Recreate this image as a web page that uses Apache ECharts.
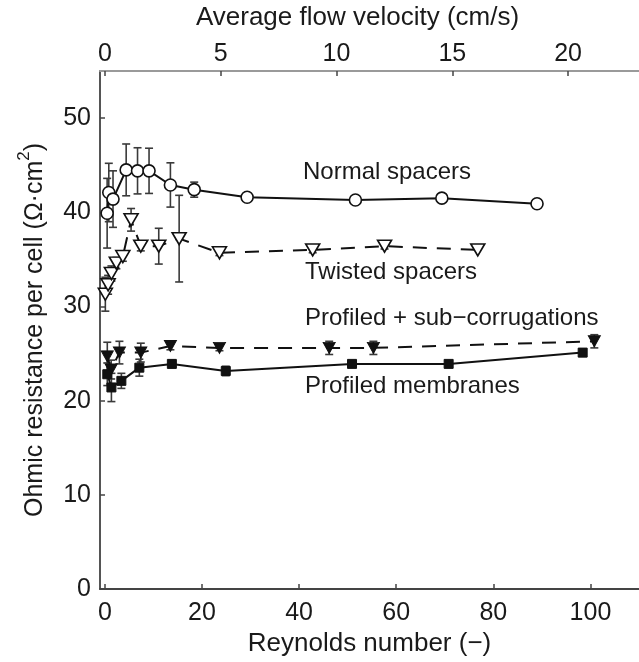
<!DOCTYPE html>
<html><head><meta charset="utf-8">
<script src="https://cdn.jsdelivr.net/npm/echarts@6/dist/echarts.min.js"></script>
<style>html,body{margin:0;padding:0;background:#fff}#c{width:639px;height:662px}</style>
</head><body><div id="c"></div><script>
// ---- data ----
const reNormal  = [0.47, 0.81, 1.68, 4.39, 6.73, 9.10, 13.5, 18.4, 29.3, 51.6, 69.4, 89.0];
const ohmNormal = [39.9, 42.1, 41.4, 44.5, 44.4, 44.4, 42.9, 42.4, 41.6, 41.3, 41.5, 40.9];
const errNormal = [3.7, 3.1, 3.0, 2.75, 2.45, 2.4, 2.35, 0.8, 0, 0, 0, 0];

const reTwisted  = [0.1, 0.67, 1.35, 2.37, 3.7, 5.4, 7.4, 11.1, 15.3, 23.6, 42.8, 57.6, 76.8];
const ohmTwisted = [31.3, 32.3, 33.5, 34.6, 35.3, 39.2, 36.4, 36.4, 37.2, 35.7, 36.0, 36.4, 36.0];
const errTwisted = [1.8, 1.0, 0.8, 0.6, 0.5, 1.2, 0.5, 1.9, 4.6, 0.3, 0.3, 0.3, 0];

const reSub  = [0.5, 1.3, 3.0, 7.4, 13.5, 23.6, 46.2, 55.3, 100.8];
const ohmSub = [24.7, 23.3, 25.1, 25.1, 25.8, 25.6, 25.6, 25.6, 26.3];
const errSub = [1.5, 1.0, 1.2, 1.0, 0.4, 0.3, 0.7, 0.7, 0.7];

const reProf  = [0.5, 1.35, 3.4, 7.1, 13.8, 24.9, 50.9, 70.8, 98.4];
const ohmProf = [22.8, 21.4, 22.1, 23.5, 23.9, 23.15, 23.9, 23.9, 25.1];
const errProf = [1.2, 1.5, 0.8, 0.9, 0.4, 0.5, 0.3, 0.3, 0.4];

const reTicks  = [0, 20, 40, 60, 80, 100];
const velTicks = [0, 5, 10, 15, 20];
const ohmTicks = [0, 10, 20, 30, 40, 50];
const RE_PER_VELOCITY = 4.77;   // Reynolds number per cm/s (axis relation)
const RE_MIN = -1, RE_MAX = 110, OHM_MIN = 0, OHM_MAX = 55;

const labels = ['Normal spacers', 'Twisted spacers', 'Profiled + sub\u2212corrugations', 'Profiled membranes'];

// ---- chart ----
const FONT = '"Liberation Sans", Arial, Helvetica, sans-serif';
const INK = '#1a1a1a';
const chart = echarts.init(document.getElementById('c'), null, {renderer: 'canvas'});

function pairs(xs, ys) { return xs.map((x, i) => [x, ys[i]]); }
function errData(xs, ys, es) {
  return xs.map((x, i) => [x, ys[i] - es[i], ys[i] + es[i], es[i]]).filter(d => d[3] > 0);
}
function errSeries(xs, ys, es) {
  return {
    type: 'custom', xAxisIndex: 0, yAxisIndex: 0, z: 1, silent: true, clip: false,
    data: errData(xs, ys, es),
    encode: {x: 0, y: [1, 2]},
    renderItem: function (params, api) {
      const x = api.value(0);
      const p1 = api.coord([x, api.value(1)]);
      const p2 = api.coord([x, api.value(2)]);
      const w = 4;
      const st = {stroke: '#3a3a3a', lineWidth: 1.6};
      return {type: 'group', children: [
        {type: 'line', shape: {x1: p1[0], y1: p1[1], x2: p2[0], y2: p2[1]}, style: st},
        {type: 'line', shape: {x1: p1[0] - w, y1: p1[1], x2: p1[0] + w, y2: p1[1]}, style: st},
        {type: 'line', shape: {x1: p2[0] - w, y1: p2[1], x2: p2[0] + w, y2: p2[1]}, style: st}
      ]};
    }
  };
}
function lineSeries(xs, ys, opts) {
  return Object.assign({
    type: 'line', xAxisIndex: 0, yAxisIndex: 0, z: 3,
    data: pairs(xs, ys),
    showSymbol: true, clip: false,
    lineStyle: {color: '#111', width: 2}
  }, opts);
}

const option = {
  animation: false,
  backgroundColor: '#fff',
  textStyle: {fontFamily: FONT},
  grid: {left: 100, right: -10, top: 67, bottom: 73, containLabel: false},
  xAxis: [
    {
      type: 'value', position: 'bottom', min: RE_MIN, max: RE_MAX,
      name: 'Reynolds number (\u2212)', nameLocation: 'middle', nameGap: 40,
      nameTextStyle: {fontSize: 26, color: INK, fontFamily: FONT},
      axisLine: {show: true, onZero: false, lineStyle: {color: '#444', width: 2}},
      axisTick: {show: true, inside: true, length: 5, customValues: reTicks, lineStyle: {color: '#444', width: 1.5}},
      axisLabel: {customValues: reTicks, fontSize: 25, color: INK, margin: 12, fontFamily: FONT},
      splitLine: {show: false}
    },
    {
      type: 'value', position: 'top', min: RE_MIN / RE_PER_VELOCITY, max: RE_MAX / RE_PER_VELOCITY,
      name: 'Average flow velocity (cm/s)', nameLocation: 'middle', nameGap: 40,
      nameTextStyle: {fontSize: 26, color: INK, fontFamily: FONT, padding: [0, 24, 0, 0]},
      axisLine: {show: true, onZero: false, lineStyle: {color: '#9a9a9a', width: 2}},
      axisTick: {show: true, inside: true, length: 5, customValues: velTicks, lineStyle: {color: '#444', width: 1.5}},
      axisLabel: {customValues: velTicks, fontSize: 25, color: INK, margin: 4, fontFamily: FONT},
      splitLine: {show: false}
    }
  ],
  yAxis: [{
    type: 'value', position: 'left', min: OHM_MIN, max: OHM_MAX,
    name: '{a|Ohmic resistance per cell (\u03A9\u00B7cm}{s|2}{a|)}',
    nameLocation: 'middle', nameGap: 52,
    nameTextStyle: {
      color: INK, fontFamily: FONT,
      rich: {
        a: {fontSize: 25, color: INK, fontFamily: FONT, lineHeight: 32, verticalAlign: 'bottom'},
        s: {fontSize: 17, color: INK, fontFamily: FONT, lineHeight: 18, verticalAlign: 'top'}
      }
    },
    axisLine: {show: true, onZero: false, lineStyle: {color: '#555', width: 2}},
    axisTick: {show: true, inside: true, length: 5, customValues: ohmTicks, lineStyle: {color: '#444', width: 1.5}},
    axisLabel: {customValues: ohmTicks, fontSize: 25, color: INK, margin: 9, fontFamily: FONT},
    splitLine: {show: false}
  }],
  series: [
    errSeries(reNormal, ohmNormal, errNormal),
    errSeries(reTwisted, ohmTwisted, errTwisted),
    errSeries(reSub, ohmSub, errSub),
    errSeries(reProf, ohmProf, errProf),
    lineSeries(reNormal, ohmNormal, {
      name: labels[0], symbol: 'circle', symbolSize: 12,
      itemStyle: {color: '#fff', borderColor: '#111', borderWidth: 1.6}
    }),
    lineSeries(reTwisted, ohmTwisted, {
      name: labels[1], symbol: 'triangle', symbolRotate: 180, symbolSize: [14, 12],
      itemStyle: {color: '#fff', borderColor: '#111', borderWidth: 1.6},
      lineStyle: {color: '#111', width: 2, type: [14, 10]}
    }),
    lineSeries(reSub, ohmSub, {
      name: labels[2], symbol: 'triangle', symbolRotate: 180, symbolSize: [12, 11],
      itemStyle: {color: '#111', borderColor: '#111', borderWidth: 1},
      lineStyle: {color: '#111', width: 2, type: [14, 10]}
    }),
    lineSeries(reProf, ohmProf, {
      name: labels[3], symbol: 'rect', symbolSize: 9,
      itemStyle: {color: '#111', borderColor: '#111', borderWidth: 1}
    })
  ],
  graphic: [
    {type: 'text', x: 303, y: 172, style: {text: labels[0], fontSize: 24, fontFamily: FONT, fill: INK, verticalAlign: 'middle'}},
    {type: 'text', x: 305, y: 272, style: {text: labels[1], fontSize: 24, fontFamily: FONT, fill: INK, verticalAlign: 'middle'}},
    {type: 'text', x: 305, y: 318, style: {text: labels[2], fontSize: 24, fontFamily: FONT, fill: INK, verticalAlign: 'middle'}},
    {type: 'text', x: 305, y: 386, style: {text: labels[3], fontSize: 24, fontFamily: FONT, fill: INK, verticalAlign: 'middle'}}
  ]
};
chart.setOption(option);
</script></body></html>
